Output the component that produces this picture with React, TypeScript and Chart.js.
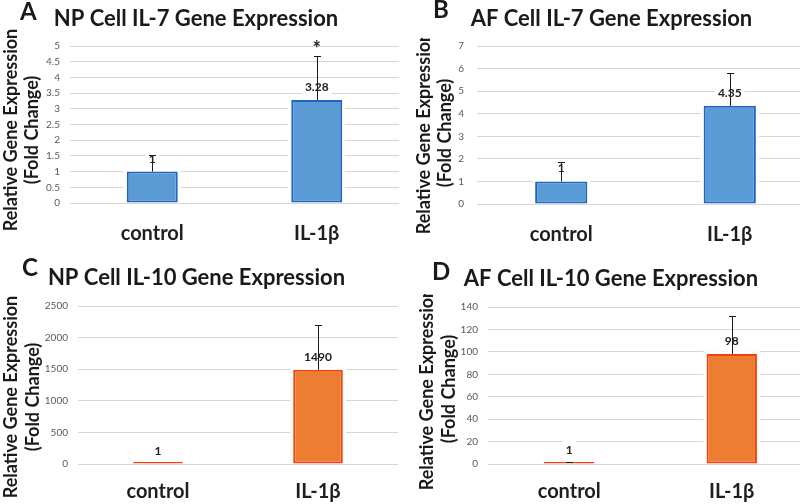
import React, { useEffect, useRef } from "react";
import { Chart, registerables } from "chart.js";

Chart.register(...registerables);

// ---------------- data ----------------
const categories = ["control", "IL-1β"];
const yAxisTitle = ["Relative Gene Expression", "(Fold Change)"];

const panelLetters = ["A", "B", "C", "D"];
const panelTitles = [
  "NP Cell IL-7 Gene Expression",
  "AF Cell IL-7 Gene Expression",
  "NP Cell IL-10 Gene Expression",
  "AF Cell IL-10 Gene Expression",
];

const npIL7Values = [1, 3.28];
const npIL7Errors = [0.53, 1.4];
const npIL7Marks = ["", "*"];

const afIL7Values = [1, 4.35];
const afIL7Errors = [0.87, 1.47];
const afIL7Marks = ["", ""];

const npIL10Values = [1, 1490];
const npIL10Errors = [0, 714];
const npIL10Marks = ["", ""];

const afIL10Values = [1, 98];
const afIL10Errors = [1, 34];
const afIL10Marks = ["", ""];

const yMaxes = [5, 7, 2500, 140];
const yStepSizes = [0.5, 1, 500, 20];

// ---------------- styles ----------------
const BLUE = { fill: "#5b9bd5", border: "#2163c2" };
const ORANGE = { fill: "#ed7d31", border: "#f4400e" };
const FONT = "Lato, 'Open Sans', sans-serif";

const layouts = [
  { left: 0, top: 0, width: 400, padTop: 46, padRight: 1, yWidth: 70, xHeight: 49, xPad: 19, tickPad: 10, letterX: 20, letterY: 20, titleX: 196, titleY: 26, yt1: 11, yt2: 32, ytC: 130, clipTop: 0, color: BLUE },
  { left: 400, top: 0, width: 414, padTop: 46, padRight: 0, yWidth: 77, xHeight: 48, xPad: 18.5, tickPad: 13, letterX: 33, letterY: 18, titleX: 211.5, titleY: 26, yt1: 24, yt2: 45, ytC: 133, clipTop: 38, color: BLUE },
  { left: 0, top: 252, width: 400, padTop: 54, padRight: 2, yWidth: 78, xHeight: 40, xPad: 16, tickPad: 10, letterX: 22, letterY: 24, titleX: 196.5, titleY: 33, yt1: 11, yt2: 33, ytC: 145, clipTop: 43, color: ORANGE },
  { left: 400, top: 252, width: 414, padTop: 55, padRight: 1, yWidth: 88, xHeight: 40, xPad: 16, tickPad: 10, letterX: 32, letterY: 28, titleX: 211, titleY: 34, yt1: 27, yt2: 49, ytC: 137, clipTop: 42, color: ORANGE },
];

const panelData = [
  { values: npIL7Values, errors: npIL7Errors, marks: npIL7Marks },
  { values: afIL7Values, errors: afIL7Errors, marks: afIL7Marks },
  { values: npIL10Values, errors: npIL10Errors, marks: npIL10Marks },
  { values: afIL10Values, errors: afIL10Errors, marks: afIL10Marks },
];

function drawCentered(ctx: CanvasRenderingContext2D, text: string, x: number, cy: number) {
  const m = ctx.measureText(text);
  const a = m.actualBoundingBoxAscent;
  const d = m.actualBoundingBoxDescent;
  ctx.textAlign = "center";
  ctx.textBaseline = "alphabetic";
  ctx.fillText(text, x, cy + (a - d) / 2);
}

const annotPlugin = {
  id: "annot",
  beforeDatasetsDraw(chart: any) {
    const { ctx } = chart;
    const meta = chart.getDatasetMeta(0);
    ctx.save();
    ctx.fillStyle = "#ffffff";
    meta.data.forEach((bar: any) => {
      const { x, y, base, width } = bar.getProps(["x", "y", "base", "width"], true);
      const top = Math.min(y, base);
      ctx.fillRect(x - width / 2 - 3, top - 3, width + 6, Math.abs(base - y) + 3);
    });
    ctx.restore();
  },
  afterDatasetsDraw(chart: any, _args: any, opts: any) {
    const { ctx } = chart;
    const meta = chart.getDatasetMeta(0);
    const yScale = chart.scales.y;
    const d = opts.data;
    meta.data.forEach((bar: any, i: number) => {
      const v = d.values[i];
      const e = d.errors[i];
      const x = bar.x;
      const yTop = yScale.getPixelForValue(v);
      const label = String(v);
      ctx.save();
      ctx.font = `bold 12px ${FONT}`;
      const w = ctx.measureText(label).width;
      const ly = yTop - 13;
      ctx.fillStyle = "#ffffff";
      ctx.fillRect(x - w / 2 - 3, ly - 9, w + 6, 18);
      let yErr = yTop;
      if (e > 0) {
        yErr = yScale.getPixelForValue(v + e);
        ctx.strokeStyle = "#1a1a1a";
        ctx.lineWidth = 1;
        ctx.beginPath();
        ctx.moveTo(Math.round(x) + 0.5, yTop);
        ctx.lineTo(Math.round(x) + 0.5, Math.round(yErr) + 0.5);
        ctx.moveTo(Math.round(x) - 3, Math.round(yErr) + 0.5);
        ctx.lineTo(Math.round(x) + 4, Math.round(yErr) + 0.5);
        ctx.stroke();
      }
      ctx.fillStyle = "#222222";
      drawCentered(ctx, label, x, ly);
      if (d.marks[i]) {
        ctx.font = `bold 20px ${FONT}`;
        drawCentered(ctx, d.marks[i], x, yErr - 12);
      }
      ctx.restore();
    });
  },
  afterDraw(chart: any, _args: any, opts: any) {
    const { ctx } = chart;
    const L = opts.layout;
    ctx.save();
    ctx.fillStyle = "#1a1a1a";
    ctx.textBaseline = "alphabetic";
    ctx.textAlign = "left";
    ctx.font = `bold 24px ${FONT}`;
    ctx.fillText(opts.letter, L.letterX, L.letterY);
    ctx.textAlign = "center";
    ctx.font = `bold 22px ${FONT}`;
    ctx.fillText(opts.title, L.titleX, L.titleY);
    ctx.restore();

    // rotated y-axis title (two lines)
    ctx.save();
    ctx.beginPath();
    ctx.rect(0, L.clipTop, chart.width, chart.height - L.clipTop);
    ctx.clip();
    ctx.fillStyle = "#1a1a1a";
    ctx.font = `bold 18px ${FONT}`;
    ctx.textAlign = "center";
    ctx.textBaseline = "middle";
    const lines: string[] = opts.yTitle;
    const xs = [L.yt1, L.yt2];
    lines.forEach((t, k) => {
      ctx.save();
      ctx.translate(xs[k], L.ytC);
      ctx.rotate(-Math.PI / 2);
      ctx.fillText(t, 0, 0);
      ctx.restore();
    });
    ctx.restore();
  },
};

function Panel({ idx }: { idx: number }) {
  const ref = useRef<HTMLCanvasElement>(null);
  const L = layouts[idx];
  const D = panelData[idx];
  useEffect(() => {
    if (!ref.current) return;
    const chart = new Chart(ref.current, {
      type: "bar",
      data: {
        labels: categories,
        datasets: [
          {
            data: D.values,
            backgroundColor: L.color.fill,
            borderColor: L.color.border,
            borderWidth: 2,
            borderSkipped: false,
            barPercentage: 0.31,
            categoryPercentage: 1,
            minBarLength: 2,
          },
        ],
      },
      options: {
        responsive: false,
        animation: false,
        devicePixelRatio: 1,
        layout: { padding: { top: L.padTop, right: L.padRight, left: 0, bottom: 0 } },
        plugins: {
          legend: { display: false },
          tooltip: { enabled: false },
          title: { display: false },
          annot: { data: D, layout: L, letter: panelLetters[idx], title: panelTitles[idx], yTitle: yAxisTitle },
        } as any,
        scales: {
          x: {
            grid: { display: false, drawTicks: false },
            border: { display: false },
            ticks: {
              padding: L.xPad,
              color: "#1f1f1f",
              font: { family: FONT, size: 20, weight: "bold", lineHeight: 1.2 },
            },
            afterFit: (s: any) => {
              s.height = L.xHeight;
            },
          },
          y: {
            min: 0,
            max: yMaxes[idx],
            ticks: {
              stepSize: yStepSizes[idx],
              padding: L.tickPad,
              color: "#595959",
              font: { family: FONT, size: 10 },
              callback: (v: any) => String(v),
            },
            grid: { color: "#d6d6d6", lineWidth: 1, drawTicks: false },
            border: { display: false },
            afterFit: (s: any) => {
              s.width = L.yWidth;
            },
          },
        },
      },
      plugins: [annotPlugin as any],
    });
    return () => chart.destroy();
  }, []);
  return (
    <div style={{ position: "absolute", left: L.left, top: L.top, width: L.width, height: 252 }}>
      <canvas ref={ref} width={L.width} height={252} style={{ display: "block" }} />
    </div>
  );
}

export default function App() {
  return (
    <div
      style={{
        position: "fixed",
        left: 0,
        top: 0,
        width: 800,
        height: 504,
        overflow: "hidden",
        background: "#ffffff",
      }}
    >
      {[0, 1, 2, 3].map((i) => (
        <Panel key={i} idx={i} />
      ))}
    </div>
  );
}
